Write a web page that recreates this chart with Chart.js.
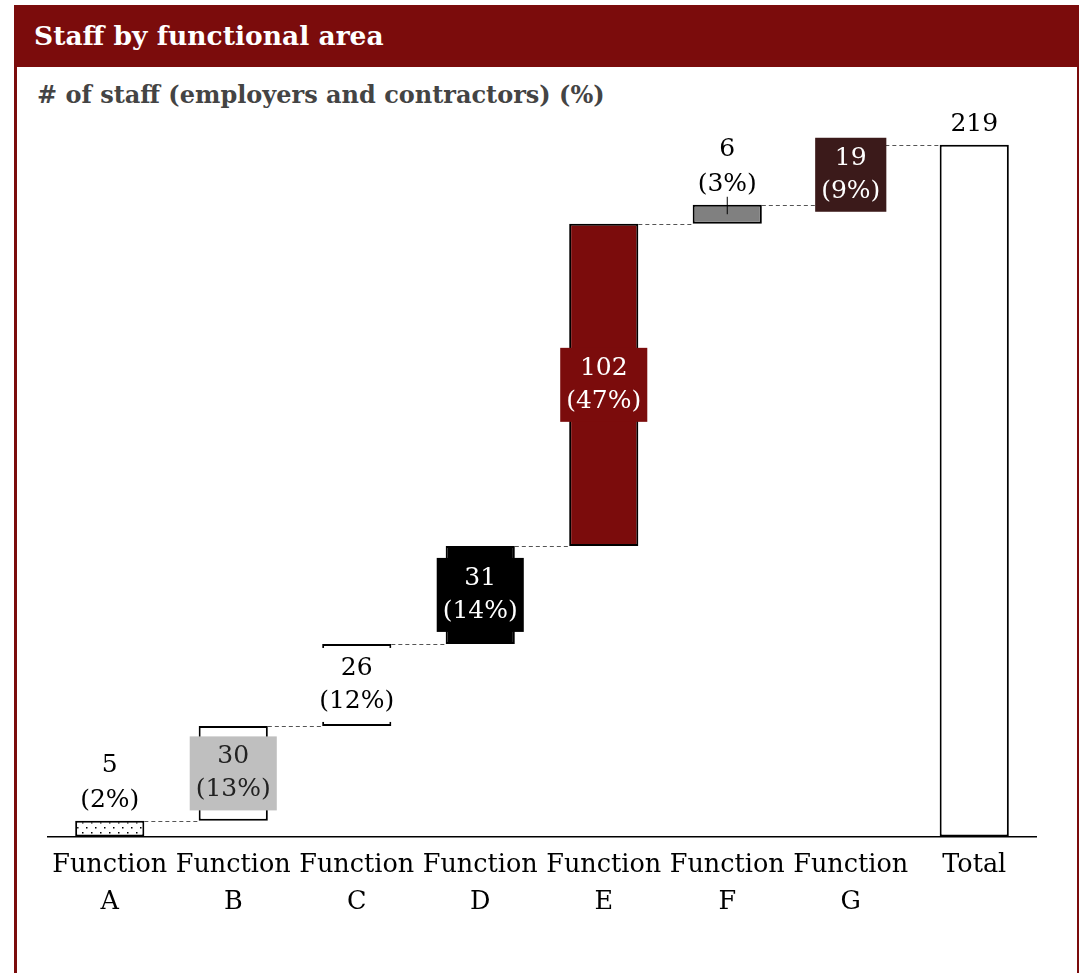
<!DOCTYPE html>
<html>
<head>
<meta charset="utf-8">
<script src="https://cdn.jsdelivr.net/npm/chart.js@4.4.0/dist/chart.umd.min.js"></script>
<style>
  body { margin: 0; background: #fff; width: 1079px; height: 973px; overflow: hidden; position: relative; font-family: "DejaVu Serif", Georgia, serif; }
  #panel { position: absolute; left: 14px; top: 5px; width: 1060px; height: 990px; border-left: 3px solid #7b0c0c; border-right: 3px solid #7b0c0c; }
  #header { position: absolute; left: 14px; top: 5px; width: 1065px; height: 62px; background: #7b0c0c; color: #fff; font-weight: bold; font-size: 26.5px; line-height: 62px; padding-left: 20px; box-sizing: border-box; }
  #subtitle { position: absolute; left: 37px; top: 80px; font-weight: bold; font-size: 24px; color: #444; }
  #wrap { position: absolute; left: 0; top: 110px; width: 1079px; height: 863px; }
</style>
</head>
<body>
<div id="panel"></div>
<div id="header">Staff by functional area</div>
<div id="subtitle"># of staff (employers and contractors) (%)</div>
<div id="wrap"><canvas id="chart"></canvas></div>
<script>
// data
const categories = [["Function", "A"], ["Function", "B"], ["Function", "C"], ["Function", "D"],
                    ["Function", "E"], ["Function", "F"], ["Function", "G"], "Total"];
const staff = [5, 30, 26, 31, 102, 6, 19];
const shares = [2, 13, 12, 14, 47, 3, 9];
const total = 219;

// how each bar and its label look
const fills = ["dots", "#ffffff", "#ffffff", "#000000", "#7b0c0c", "#808080", "#3b1a1a", "#ffffff"];
const labelPos = ["above", "inside", "inside", "inside", "inside", "above", "inside", "above"];
const labelBg = [null, "#bfbfbf", "#ffffff", "#000000", "#7b0c0c", null, "#3b1a1a", null];
const labelColor = ["#000", "#222", "#000", "#fff", "#fff", "#000", "#fff", "#000"];
const leader = [false, false, false, false, false, true, false, false];

const FONT = "25px 'DejaVu Serif', Georgia, serif";

function dotPattern(ctx) {
  const c = document.createElement("canvas");
  c.width = 9; c.height = 10;
  const g = c.getContext("2d");
  g.fillStyle = "#fff";
  g.fillRect(0, 0, 9, 10);
  g.fillStyle = "#000";
  g.fillRect(1, 2, 1.5, 1.5);
  g.fillRect(5, 7, 1.5, 1.5);
  return ctx.createPattern(c, "repeat");
}

// floating bars for the waterfall
let running = 0;
const ranges = staff.map(v => {
  const r = [running, running + v];
  running += v;
  return r;
});
ranges.push([0, total]);

const labels = staff.map((v, i) => [String(v), "(" + shares[i] + "%)"]);
labels.push([String(total)]);

const canvas = document.getElementById("chart");
const ctx = canvas.getContext("2d");
const pattern = dotPattern(ctx);

const connectors = {
  id: "connectors",
  beforeDatasetsDraw(chart) {
    const bars = chart.getDatasetMeta(0).data;
    const y = chart.scales.y;
    const c = chart.ctx;
    c.save();
    c.strokeStyle = "#555";
    c.lineWidth = 1;
    c.setLineDash([4, 3]);
    for (let i = 0; i < bars.length - 1; i++) {
      const a = bars[i], b = bars[i + 1];
      const py = Math.round(y.getPixelForValue(ranges[i][1])) + 0.5;
      c.beginPath();
      c.moveTo(a.x + a.width / 2, py);
      c.lineTo(b.x - b.width / 2, py);
      c.stroke();
    }
    c.restore();
  }
};

const barLabels = {
  id: "barLabels",
  afterDatasetsDraw(chart) {
    const bars = chart.getDatasetMeta(0).data;
    const c = chart.ctx;
    const lh = 33;
    c.save();
    c.font = FONT;
    c.textAlign = "center";
    c.textBaseline = "middle";
    bars.forEach((bar, i) => {
      const lines = labels[i];
      const top = Math.min(bar.y, bar.base);
      const bottom = Math.max(bar.y, bar.base);
      let firstY;
      if (labelPos[i] === "inside") {
        const mid = (top + bottom) / 2;
        firstY = mid - (lines.length - 1) * lh / 2;
        const w = Math.max(...lines.map(t => c.measureText(t).width)) + 12;
        const h = lines.length * lh + 8;
        c.fillStyle = labelBg[i];
        c.fillRect(bar.x - w / 2, mid - h / 2, w, h);
      } else {
        firstY = top - 20 - (lines.length - 1) * 35;
      }
      if (leader[i]) {
        c.strokeStyle = "#000";
        c.lineWidth = 1;
        c.beginPath();
        c.moveTo(bar.x, top - 8);
        c.lineTo(bar.x, (top + bottom) / 2);
        c.stroke();
      }
      c.fillStyle = labelColor[i];
      const step = labelPos[i] === "inside" ? lh : 35;
      lines.forEach((t, k) => c.fillText(t, bar.x, firstY + k * step));
    });
    c.restore();
  }
};

new Chart(ctx, {
  type: "bar",
  data: {
    labels: categories,
    datasets: [{
      data: ranges,
      backgroundColor: fills.map(f => f === "dots" ? pattern : f),
      borderColor: "#000",
      borderWidth: 2,
      borderSkipped: false,
      categoryPercentage: 1,
      barPercentage: 0.56
    }]
  },
  options: {
    responsive: true,
    maintainAspectRatio: false,
    animation: false,
    layout: { padding: { left: 48, right: 43, top: 0, bottom: 42 } },
    plugins: { legend: { display: false }, tooltip: { enabled: false } },
    scales: {
      y: { display: false, min: 0, max: 230 },
      x: {
        grid: { display: false, drawTicks: false },
        border: { display: true, color: "#000", width: 1.5 },
        ticks: {
          color: "#000",
          font: { family: "'DejaVu Serif', Georgia, serif", size: 25.5, lineHeight: 1.42 },
          padding: 11,
          maxRotation: 0,
          autoSkip: false
        }
      }
    }
  },
  plugins: [connectors, barLabels]
});
</script>
</body>
</html>
